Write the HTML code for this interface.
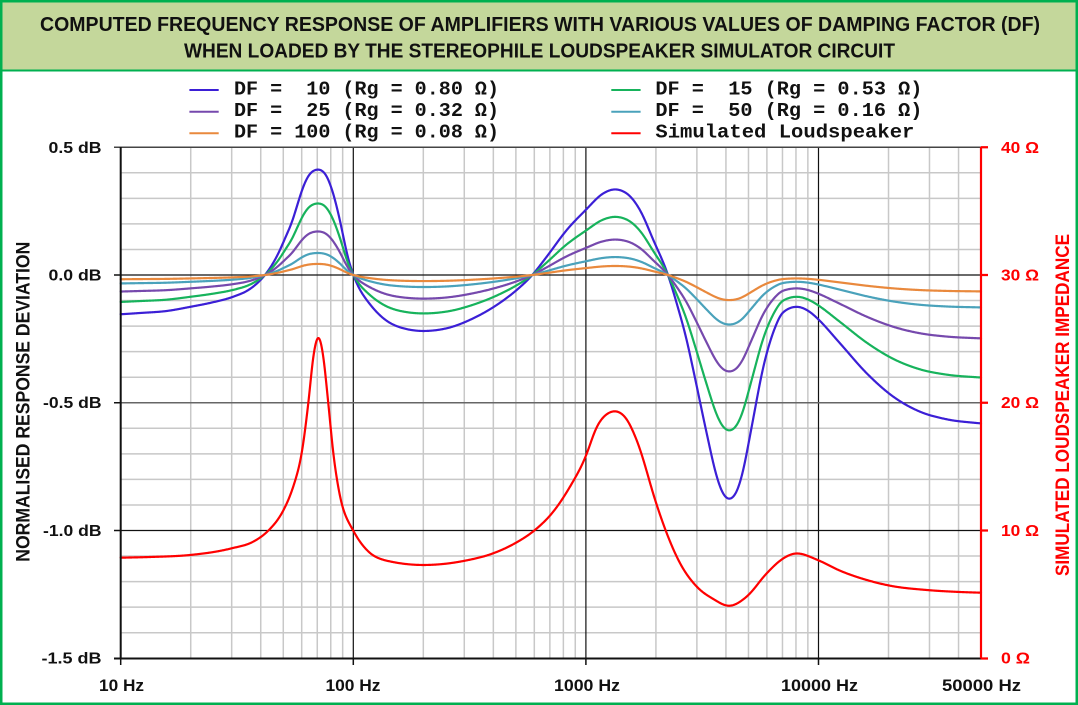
<!DOCTYPE html>
<html>
<head>
<meta charset="utf-8">
<style>
html,body{margin:0;padding:0;background:#fff;}
svg{display:block;}
.t{font-family:"Liberation Sans",Arial,sans-serif;font-weight:bold;}
.m{font-family:"Liberation Mono","Courier New",monospace;font-weight:bold;}
</style>
</head>
<body>
<svg width="1078" height="705" viewBox="0 0 1078 705" xmlns="http://www.w3.org/2000/svg" xml:space="preserve">
<rect x="0" y="0" width="1078" height="705" fill="#ffffff"/>
<rect x="0" y="0" width="1078" height="71" fill="#c4d79b"/>
<line x1="0" y1="70.5" x2="1078" y2="70.5" stroke="#00b050" stroke-width="2"/>
<rect x="1.25" y="1.25" width="1075.5" height="702.5" fill="none" stroke="#00b050" stroke-width="2.5"/>

<!-- Title -->
<text class="t" x="540" y="31" text-anchor="middle" font-size="20" fill="#111" textLength="1000" lengthAdjust="spacingAndGlyphs">COMPUTED FREQUENCY RESPONSE OF AMPLIFIERS WITH VARIOUS VALUES OF DAMPING FACTOR (DF)</text>
<text class="t" x="539.5" y="57.5" text-anchor="middle" font-size="20" fill="#111" textLength="711" lengthAdjust="spacingAndGlyphs">WHEN LOADED BY THE STEREOPHILE LOUDSPEAKER SIMULATOR CIRCUIT</text>

<!-- Legend -->
<g stroke-width="2">
<line x1="189.4" y1="90" x2="218.7" y2="90" stroke="#3b1fd6"/>
<line x1="189.4" y1="111.7" x2="218.7" y2="111.7" stroke="#7649ad"/>
<line x1="189.4" y1="133.3" x2="218.7" y2="133.3" stroke="#e9893d"/>
<line x1="611.3" y1="90" x2="640.6" y2="90" stroke="#17b35c"/>
<line x1="611.3" y1="111.7" x2="640.6" y2="111.7" stroke="#4aa2bb"/>
<line x1="611.3" y1="133.3" x2="640.6" y2="133.3" stroke="#ff0000"/>
</g>
<g class="m" font-size="19" fill="#111" style="white-space:pre">
<text x="234" y="94.5" textLength="265" lengthAdjust="spacingAndGlyphs" xml:space="preserve">DF =  10 (Rg = 0.80 Ω)</text>
<text x="234" y="116" textLength="265" lengthAdjust="spacingAndGlyphs" xml:space="preserve">DF =  25 (Rg = 0.32 Ω)</text>
<text x="234" y="137.7" textLength="265" lengthAdjust="spacingAndGlyphs" xml:space="preserve">DF = 100 (Rg = 0.08 Ω)</text>
<text x="655.4" y="94.5" textLength="267" lengthAdjust="spacingAndGlyphs" xml:space="preserve">DF =  15 (Rg = 0.53 Ω)</text>
<text x="655.4" y="116" textLength="267" lengthAdjust="spacingAndGlyphs" xml:space="preserve">DF =  50 (Rg = 0.16 Ω)</text>
<text x="655.4" y="137.7" textLength="259" lengthAdjust="spacingAndGlyphs" xml:space="preserve">Simulated Loudspeaker</text>
</g>

<!-- Minor grid -->
<path fill="none" stroke="#c8c8c8" stroke-width="1.5" d="M190.72 147V658.5M231.68 147V658.5M260.74 147V658.5M283.28 147V658.5M301.70 147V658.5M317.27 147V658.5M330.76 147V658.5M342.66 147V658.5M423.32 147V658.5M464.28 147V658.5M493.34 147V658.5M515.88 147V658.5M534.30 147V658.5M549.87 147V658.5M563.36 147V658.5M575.26 147V658.5M655.92 147V658.5M696.88 147V658.5M725.94 147V658.5M748.48 147V658.5M766.90 147V658.5M782.47 147V658.5M795.96 147V658.5M807.86 147V658.5M888.52 147V658.5M929.48 147V658.5M958.54 147V658.5"/>
<path fill="none" stroke="#c8c8c8" stroke-width="1.5" d="M120.7 172.8H981M120.7 198.35H981M120.7 223.9H981M120.7 249.45H981M120.7 300.55H981M120.7 326.1H981M120.7 351.65H981M120.7 377.2H981M120.7 428.3H981M120.7 453.85H981M120.7 479.4H981M120.7 504.95H981M120.7 556.05H981M120.7 581.6H981M120.7 607.15H981M120.7 632.7H981"/>

<!-- Major grid -->
<path fill="none" stroke="#111" stroke-width="1.2" d="M353.3 147V658.5M585.9 147V658.5M818.5 147V658.5"/>
<path fill="none" stroke="#444" stroke-width="1.6" d="M114 147.25H981"/>
<path fill="none" stroke="#666" stroke-width="1.6" d="M120.7 402.75H981"/>
<path fill="none" stroke="#111" stroke-width="1.3" d="M120.7 275H981M120.7 530.5H981"/>

<!-- Curves -->
<g fill="none" stroke-width="2.2" stroke-linejoin="round" stroke-linecap="round">
<path id="c10" stroke="#3b1fd6" d="M120.7 314.3L166.7 311L191 306.7L233.3 296.7L265 275L291.7 223L318.3 169.3L341 225L353.3 275L383.3 318.3L423.3 331L473.3 318.3L531.7 275.7L585.7 210L615 189.3L640 210L668.3 275.7L706.7 433.3L729.3 499.3L751.7 426.7L776.7 323.3L796.7 306.7L840 343.3L893.3 396.7L946.7 419.3L981 423.5"/>
<path id="c15" stroke="#17b35c" d=""/>
<path id="c25" stroke="#7649ad" d=""/>
<path id="c50" stroke="#4aa2bb" d=""/>
<path id="c100" stroke="#e9893d" d=""/>
<path id="cr" stroke="#ff0000" d="M120.7 557.7L231.7 548.3L268.3 530.7L301.7 453.3L318.3 337.3L333.3 453.3L353.3 530.7L423.3 565L493.3 553.3L535 530L585.7 456.7L615 411L636.7 440L666.7 533.3L729 606L766.7 573.3L796.7 553.3L840 570.7L926.7 590L981 592.7"/>
</g>

<!-- Axes -->
<path fill="none" stroke="#111" stroke-width="2" d="M120.7 147V658.5M114 658.5H981"/>
<path fill="none" stroke="#111" stroke-width="1.5" d="M114 275H120.7M114 402.75H120.7M114 530.5H120.7M120.7 658.5V665M353.3 658.5V665M585.9 658.5V665M818.5 658.5V665"/>
<path fill="none" stroke="#ff0000" stroke-width="2.2" d="M981 147V658.5M981 147.25H988M981 275H988M981 402.75H988M981 530.5H988M981 658.5H988"/>

<!-- Y labels left -->
<g class="t" font-size="16" fill="#111" text-anchor="end">
<text x="101.5" y="152.8" textLength="53" lengthAdjust="spacingAndGlyphs">0.5 dB</text>
<text x="101.5" y="280.5" textLength="53" lengthAdjust="spacingAndGlyphs">0.0 dB</text>
<text x="101.5" y="408.2" textLength="58.5" lengthAdjust="spacingAndGlyphs">-0.5 dB</text>
<text x="101.5" y="536" textLength="58.5" lengthAdjust="spacingAndGlyphs">-1.0 dB</text>
<text x="101.5" y="663.7" textLength="60" lengthAdjust="spacingAndGlyphs">-1.5 dB</text>
</g>
<!-- Y labels right -->
<g class="t" font-size="16" fill="#ff0000">
<text x="1001" y="152.8" textLength="38" lengthAdjust="spacingAndGlyphs">40 Ω</text>
<text x="1001" y="280.5" textLength="38" lengthAdjust="spacingAndGlyphs">30 Ω</text>
<text x="1001" y="408.2" textLength="38" lengthAdjust="spacingAndGlyphs">20 Ω</text>
<text x="1001" y="536" textLength="38" lengthAdjust="spacingAndGlyphs">10 Ω</text>
<text x="1001" y="663.7" textLength="29" lengthAdjust="spacingAndGlyphs">0 Ω</text>
</g>
<!-- X labels -->
<g class="t" font-size="17" fill="#111" text-anchor="middle">
<text x="121.5" y="691" textLength="45" lengthAdjust="spacingAndGlyphs">10 Hz</text>
<text x="353" y="691" textLength="55" lengthAdjust="spacingAndGlyphs">100 Hz</text>
<text x="587" y="691" textLength="66" lengthAdjust="spacingAndGlyphs">1000 Hz</text>
<text x="819.5" y="691" textLength="77" lengthAdjust="spacingAndGlyphs">10000 Hz</text>
<text x="981.5" y="691" textLength="79" lengthAdjust="spacingAndGlyphs">50000 Hz</text>
</g>
<!-- Axis titles -->
<text class="t" transform="translate(29.5,401.7) rotate(-90)" text-anchor="middle" font-size="19" fill="#111" textLength="320" lengthAdjust="spacingAndGlyphs">NORMALISED RESPONSE DEVIATION</text>
<text class="t" transform="translate(1069,405) rotate(-90)" text-anchor="middle" font-size="19" fill="#ff0000" textLength="342" lengthAdjust="spacingAndGlyphs">SIMULATED LOUDSPEAKER IMPEDANCE</text>
</svg>
<script>
(function(){
function mono(P){
  var n=P.length,xs=[],ys=[],h=[],s=[],t=[],i;
  for(i=0;i<n;i++){xs.push(P[i][0]);ys.push(P[i][1]);}
  for(i=0;i<n-1;i++){h[i]=xs[i+1]-xs[i];s[i]=(ys[i+1]-ys[i])/h[i];}
  t[0]=s[0];t[n-1]=s[n-2];
  for(i=1;i<n-1;i++){
    var p=(s[i-1]*h[i]+s[i]*h[i-1])/(h[i-1]+h[i]);
    t[i]=(Math.sign(s[i-1])+Math.sign(s[i]))*Math.min(Math.abs(s[i-1]),Math.abs(s[i]),0.5*Math.abs(p))||0;
  }
  return function(x){
    var k=0;while(k<n-2&&x>xs[k+1])k++;
    var hh=h[k],u=(x-xs[k])/hh,u2=u*u,u3=u2*u;
    return (2*u3-3*u2+1)*ys[k]+(u3-2*u2+u)*hh*t[k]+(-2*u3+3*u2)*ys[k+1]+(u3-u2)*hh*t[k+1];
  };
}
var d10=[[120.7,314.3],[140,313],[166.7,311],[191,306.7],[212,302.5],[233.3,296.7],[250,289],[265,275],[272,265],[280,250],[286,236],[291.7,223],[297,206],[302,190],[307,178],[312,171.5],[318.3,169.3],[324,172],[329,181],[334,196],[338,212],[341,225],[345,245],[349,262],[353.3,275],[360,290],[366.7,300],[383.3,318.3],[403.3,328.3],[423.3,331],[446.7,328.3],[473.3,318.3],[496.7,305],[516.7,290],[531.7,275.7],[546.7,256.7],[566.7,230],[585.7,210],[603.3,193.3],[615,189.3],[626.7,193.3],[640,210],[653.3,240],[668.3,275.7],[676.7,303.3],[686.7,340],[693.3,370],[706.7,433.3],[716.7,476.7],[722.7,493.3],[729.3,499.3],[736,493.3],[741.7,476.7],[751.7,426.7],[763.3,366.7],[776.7,323.3],[782,313],[796.7,306.7],[811.7,313.3],[817.3,318.3],[840,343.3],[866.7,373.3],[893.3,396.7],[920,411.7],[946.7,419.3],[981,423.5]];
var rd=[[120.7,557.7],[150,557],[190,555],[231.7,548.3],[253.3,541.7],[268.3,530.7],[283.3,510.7],[293.3,486.7],[301.7,453.3],[308.3,403.3],[313.3,356.7],[316,342],[318.3,337.3],[320.7,342],[323.3,356.7],[328.3,403.3],[333.3,453.3],[340,496.7],[353.3,530.7],[366.7,550],[386.7,560.7],[423.3,565],[445,563.8],[465,560.7],[493.3,553.3],[515,543.3],[535,530],[553.3,511.7],[570,486.7],[585.7,456.7],[596.7,426.7],[606.7,414],[615,411],[625,416.7],[636.7,440],[656.7,505],[666.7,533.3],[680,563.3],[696.7,586.7],[713.3,599],[729,606],[746.7,596.7],[766.7,573.3],[783.3,558.3],[796.7,553.3],[817.7,560],[840,570.7],[866.7,580],[890,585.7],[926.7,590],[960,592],[981,592.7]];
var X0=120.7,X1=981,STEP=0.5;
var N=Math.round((X1-X0)/STEP);
var xs=[];for(var i=0;i<=N;i++)xs.push(X0+(X1-X0)*i/N);
function sample(fn){return xs.map(fn);}
function smooth(ys,sigFn){
  var out=[];
  for(var i=0;i<ys.length;i++){
    var sg=sigFn(xs[i]);
    if(sg<0.3){out.push(ys[i]);continue;}
    var r=Math.ceil(3*sg/STEP),sum=0,w=0;
    for(var j=i-r;j<=i+r;j++){
      if(j<0||j>=ys.length)continue;
      var dx=(j-i)*STEP,ww=Math.exp(-dx*dx/(2*sg*sg));
      sum+=ww*ys[j];w+=ww;
    }
    out.push(sum/w);
  }
  return out;
}
function path(ys){
  var d='';
  for(var i=0;i<ys.length;i++)d+=(i?'L':'M')+xs[i].toFixed(2)+' '+ys[i].toFixed(2);
  return d;
}
var f10=mono(d10),fr=mono(rd);
var y10=smooth(sample(f10),function(x){return 2.2;});
var yr=smooth(sample(fr),function(x){
  var a=Math.abs(x-318.3);
  if(a<=14)return 0.9;
  if(a>=28)return 2.6;
  return 0.9+1.7*(a-14)/14;
});
var K=1.0806,Gref=(K-1)/0.8;
var series=[['c10',0.8],['c15',0.5333],['c25',0.32],['c50',0.16],['c100',0.08]];
series.forEach(function(sr){
  var rg=sr[1];
  var ys=y10.map(function(y){
    var dd=(275-y)/255.5;
    var G=(K*Math.pow(10,-dd/20)-1)/0.8;
    var dev=20*Math.log10((1+rg*Gref)/(1+rg*G));
    return 275-255.5*dev;
  });
  document.getElementById(sr[0]).setAttribute('d',path(ys));
});
document.getElementById('cr').setAttribute('d',path(yr));
})();
</script>
</body>
</html>
